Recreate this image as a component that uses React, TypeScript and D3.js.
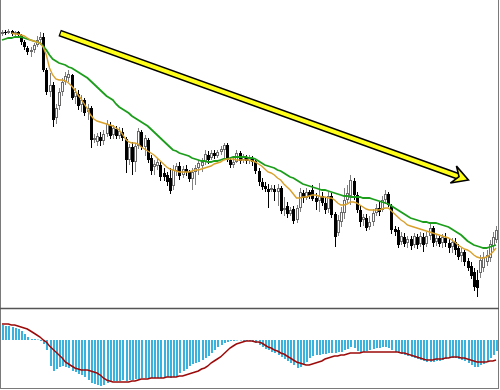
import React from 'react';
import * as d3 from 'd3';

// candle data (price units), one entry per bar
const opens = [
  366, 368, 367, 369, 366, 368, 365, 358, 352, 348,
  350, 355, 360, 363, 330, 308, 315, 282, 294, 308,
  318, 322, 325, 303, 306, 295, 300, 288, 292, 260,
  258, 263, 259, 266, 275, 265, 271, 264, 268, 261,
  240, 253, 238, 254, 268, 253, 260, 242, 233, 234,
  235, 227, 225, 222, 214, 229, 234, 225, 231, 228,
  221, 228, 232, 234, 238, 245, 242, 247, 244, 248,
  250, 255, 240, 235, 238, 247, 240, 243, 239, 242,
  239, 229, 218, 214, 211, 210, 211, 208, 212, 190,
  194, 186, 191, 180, 192, 207, 202, 208, 210, 202,
  199, 204, 197, 191, 204, 186, 167, 178, 187, 200,
  204, 219, 205, 190, 180, 182, 173, 178, 187, 192,
  190, 200, 206, 194, 171, 170, 158, 163, 157, 161,
  155, 163, 156, 163, 156, 164, 172, 158, 162, 157,
  162, 157, 153, 158, 152, 144, 148, 139, 134, 128,
  120, 127, 132, 138, 142, 154, 160,
];
const highs = [
  370, 370, 371, 370, 369, 369, 366, 360, 354, 353,
  357, 364, 368, 367, 332, 327, 318, 296, 312, 322,
  328, 330, 326, 312, 310, 305, 302, 296, 294, 266,
  267, 268, 270, 280, 278, 275, 274, 273, 272, 263,
  256, 258, 257, 272, 270, 265, 262, 245, 240, 242,
  238, 232, 228, 232, 235, 237, 238, 234, 235, 230,
  232, 235, 240, 242, 250, 249, 250, 250, 250, 254,
  257, 257, 243, 242, 250, 249, 246, 245, 245, 244,
  241, 232, 222, 218, 216, 215, 215, 216, 214, 203,
  198, 193, 194, 195, 212, 210, 212, 210, 215, 207,
  217, 208, 203, 208, 207, 188, 185, 193, 212, 215,
  225, 222, 208, 195, 186, 186, 184, 191, 196, 198,
  204, 210, 208, 196, 174, 173, 168, 167, 164, 164,
  167, 166, 168, 167, 168, 176, 174, 166, 164, 166,
  167, 162, 162, 162, 156, 152, 150, 142, 138, 132,
  130, 145, 148, 150, 160, 168, 174,
];
const lows = [
  364, 365, 366, 364, 364, 363, 355, 350, 345, 343,
  347, 353, 355, 328, 305, 303, 273, 276, 290, 304,
  315, 318, 300, 296, 290, 288, 284, 280, 252, 257,
  254, 254, 255, 263, 261, 261, 261, 261, 259, 227,
  235, 225, 228, 251, 250, 244, 237, 225, 225, 230,
  219, 219, 214, 206, 210, 224, 220, 222, 224, 218,
  210, 215, 225, 228, 235, 236, 240, 241, 242, 245,
  242, 238, 232, 232, 237, 236, 237, 236, 236, 234,
  226, 214, 210, 208, 192, 208, 199, 194, 186, 184,
  182, 184, 176, 177, 188, 197, 200, 201, 199, 190,
  188, 194, 186, 187, 182, 153, 164, 173, 181, 197,
  195, 200, 187, 173, 174, 169, 170, 174, 184, 184,
  188, 196, 193, 166, 164, 152, 155, 153, 152, 150,
  152, 151, 153, 148, 153, 160, 153, 154, 153, 152,
  153, 147, 147, 145, 140, 138, 134, 129, 121, 109,
  103, 122, 128, 134, 138, 150, 157,
];
const closes = [
  368, 367, 369, 366, 368, 365, 358, 353, 348, 350,
  355, 360, 363, 330, 308, 315, 280, 292, 308, 318,
  324, 326, 302, 308, 294, 300, 287, 292, 260, 262,
  264, 259, 266, 276, 264, 272, 264, 269, 262, 240,
  253, 238, 254, 269, 253, 262, 240, 229, 236, 238,
  223, 223, 218, 209, 230, 234, 224, 231, 228, 221,
  228, 232, 237, 238, 246, 240, 247, 244, 248, 251,
  255, 240, 235, 238, 247, 239, 243, 239, 242, 238,
  229, 218, 213, 211, 208, 212, 208, 212, 189, 192,
  186, 190, 179, 192, 208, 202, 208, 204, 201, 198,
  204, 197, 190, 204, 185, 163, 180, 188, 200, 207,
  220, 205, 190, 178, 183, 172, 178, 187, 192, 188,
  200, 206, 195, 170, 168, 155, 164, 156, 161, 154,
  164, 155, 164, 155, 164, 172, 157, 162, 156, 163,
  157, 152, 158, 150, 143, 148, 138, 132, 124, 113,
  112, 140, 143, 145, 156, 163, 170,
];

// moving averages (fast = orange, slow = green)
const maFast: (number | null)[] = [
  null, null, null, 367, 366, 366, 365, 364, 362, 360,
  359, 358, 357, 353, 345, 332, 325, 321, 320, 320,
  319, 317, 314, 310, 305, 301, 296, 291, 285, 281,
  279, 278, 277, 276, 275, 274, 272, 270, 266, 261,
  258, 257, 257, 256, 253, 251, 249, 247, 245, 242,
  239, 236, 233, 231, 230, 229, 228, 228, 228, 228,
  229, 230, 230, 231, 232, 233, 234, 236, 237, 238,
  240, 241, 241, 241, 240, 240, 240, 240, 240, 239,
  238, 236, 234, 231, 228, 227, 225, 222, 220, 216,
  213, 210, 206, 202, 202, 203, 203, 204, 205, 205,
  204, 203, 203, 202, 202, 200, 197, 195, 195, 196,
  198, 198, 197, 195, 193, 191, 190, 190, 190, 190,
  191, 192, 192, 189, 186, 183, 180, 178, 175, 174,
  173, 172, 171, 170, 169, 168, 167, 166, 165, 164,
  163, 162, 160, 158, 155, 153, 151, 150, 148, 145,
  143, 142, 142, 143, 145, 148, 152,
];
const maSlow: (number | null)[] = [
  360, 361, 362, 362, 363, 363, 363, 362, 361, 360,
  359, 358, 357, 354, 350, 345, 341, 339, 337, 336,
  335, 333, 332, 330, 328, 326, 324, 322, 319, 316,
  313, 310, 307, 304, 302, 300, 296, 293, 291, 289,
  287, 284, 282, 280, 278, 276, 274, 271, 268, 265,
  262, 259, 256, 253, 250, 249, 247, 246, 245, 244,
  242, 241, 240, 239, 239, 238, 238, 239, 239, 240,
  241, 241, 242, 243, 243, 243, 243, 243, 242, 242,
  241, 239, 237, 235, 234, 233, 232, 230, 229, 227,
  225, 223, 222, 220, 218, 216, 215, 214, 213, 212,
  211, 210, 210, 209, 208, 207, 206, 205, 204, 204,
  203, 203, 203, 203, 202, 202, 202, 201, 200, 199,
  198, 197, 196, 194, 192, 190, 188, 186, 184, 182,
  181, 180, 179, 178, 178, 177, 177, 177, 176, 175,
  174, 173, 171, 169, 167, 165, 162, 159, 157, 155,
  154, 153, 152, 152, 153, 154, 155,
];

// oscillator panel
const histogram = [
  15, 14, 14, 13, 12, 11, 9, 6, 3, 1,
  1, 0.5, -1, -4, -10, -26, -31, -29, -27, -26,
  -27, -28, -31, -32, -34, -35, -37, -40, -43, -44,
  -45, -46, -45, -43, -42, -41, -41, -41, -40, -41,
  -40, -40, -39, -39, -38, -38, -39, -38, -38, -38,
  -38, -38, -37, -38, -37, -36, -33, -31, -29, -26,
  -24, -23, -22, -20, -18, -16, -13, -10, -7, -5,
  -3, -2, -1, -1, -0.5, -0.5, -1, -1, -1, -2,
  -3, -5, -7, -9, -10, -12, -13, -15, -17, -19,
  -21, -23, -25, -28, -27, -25, -22, -18, -16, -15,
  -15, -14, -14, -13, -13, -13, -12, -12, -10, -9,
  -7, -8, -11, -13, -12, -11, -10, -9, -8, -8,
  -7, -7, -8, -10, -12, -13, -14, -15, -16, -17,
  -18, -19, -20, -21, -22, -22, -22, -21, -21, -20,
  -19, -18, -18, -18, -19, -20, -21, -23, -25, -27,
  -27, -25, -24, -21, -18, -15, -11,
];
const signal = [
  16, 16, 16, 15, 15, 14, 13, 12, 11, 9,
  7, 5, 3, 0, -2, -6, -9, -12, -15, -18,
  -22, -24, -26, -28, -29, -30, -30, -30, -31, -32,
  -33, -35, -38, -40, -41, -42, -42, -42, -42, -42,
  -42, -41, -41, -40, -39, -39, -39, -38, -38, -38,
  -38, -38, -37, -37, -37, -37, -36, -36, -35, -34,
  -33, -32, -31, -29, -28, -26, -23, -21, -19, -17,
  -14, -11, -8, -6, -4, -3, -2, -1, -1, -1,
  -2, -2, -3, -5, -7, -8, -10, -11, -13, -14,
  -16, -18, -20, -22, -23, -24, -25, -25, -24, -23,
  -22, -21, -19, -18, -17, -16, -16, -15, -15, -14,
  -13, -13, -13, -13, -12, -12, -12, -12, -12, -12,
  -12, -12, -12, -12, -12, -12, -13, -13, -14, -15,
  -16, -17, -18, -19, -20, -20, -20, -19, -19, -19,
  -18, -18, -17, -17, -17, -18, -18, -19, -20, -21,
  -22, -22, -22, -22, -21, -21, -20,
];

// trend arrow, in bar index / price
const arrowFrom = { i: 18.2, p: 367 };
const arrowTo = { i: 147.3, p: 220 };

const W = 500;
const H = 390;

export default function App() {
  const n = closes.length;
  const x = d3.scaleLinear().domain([0, n - 1]).range([2, 496]);
  const y = d3.scaleLinear().domain([92, 400]).range([308, 0]);
  const yM = d3.scaleLinear().domain([-48, 32]).range([388, 308]);

  const maLine = d3.line<number | null>()
    .defined(d => d != null)
    .x((_, i) => x(i))
    .y(d => y(d as number));
  const sigLine = d3.line<number>()
    .x((_, i) => x(i))
    .y(d => yM(d));

  // arrow geometry
  const ax0 = x(arrowFrom.i), ay0 = y(arrowFrom.p);
  const ax1 = x(arrowTo.i), ay1 = y(arrowTo.p);
  const len = Math.hypot(ax1 - ax0, ay1 - ay0);
  const ux = (ax1 - ax0) / len, uy = (ay1 - ay0) / len;
  const px = uy, py = -ux;
  const bx = ax1 - 16 * ux, by = ay1 - 16 * uy;
  const nx = ax1 - 10 * ux, ny = ay1 - 10 * uy;
  const head = [
    [ax1, ay1],
    [bx + 9 * px, by + 9 * py],
    [nx, ny],
    [bx - 9 * px, by - 9 * py],
  ].map(p => p.join(',')).join(' ');

  const zero = yM(0);

  return (
    <svg width={W} height={H} style={{ position: 'fixed', left: 0, top: 0, background: '#fff' }}>
      <rect x={0} y={0} width={W} height={H} fill="#fff" />

      {/* candles */}
      <g>
        {closes.map((c, i) => {
          const o = opens[i];
          const cx = Math.round(x(i));
          const up = c > o;
          const top = y(Math.max(o, c));
          const bot = y(Math.min(o, c));
          const h = Math.max(1, bot - top);
          return (
            <g key={i}>
              <line x1={cx + 0.5} x2={cx + 0.5} y1={y(highs[i])} y2={y(lows[i])}
                stroke={up ? '#808080' : '#000'} strokeWidth={1} />
              {up ? (
                <rect x={cx - 0.5} y={top + 0.5} width={2} height={Math.max(0.5, h - 1)}
                  fill="#fff" stroke="#6a6a6a" strokeWidth={1} />
              ) : (
                <rect x={cx - 1} y={top} width={3} height={h} fill="#000" />
              )}
            </g>
          );
        })}
      </g>

      {/* moving averages */}
      <path d={maLine(maSlow) || ''} fill="none" stroke="#1c9e1c" strokeWidth={1.8} />
      <path d={maLine(maFast) || ''} fill="none" stroke="#d9a02a" strokeWidth={1.4} />

      {/* trend arrow */}
      <line x1={ax0} y1={ay0} x2={nx} y2={ny} stroke="#000" strokeWidth={7} />
      <line x1={ax0 + 1.2 * ux} y1={ay0 + 1.2 * uy} x2={nx} y2={ny} stroke="#ffff1a" strokeWidth={3.8} />
      <polygon points={head} fill="#ffff1a" stroke="#000" strokeWidth={1.6} strokeLinejoin="miter" />

      {/* oscillator */}
      <g>
        {histogram.map((v, i) => {
          const cx = Math.round(x(i));
          const yv = yM(v);
          return (
            <rect key={i} x={cx} y={Math.min(yv, zero)} width={2}
              height={Math.max(0.5, Math.abs(yv - zero))} fill="#3ab2de" />
          );
        })}
      </g>
      <path d={sigLine(signal) || ''} fill="none" stroke="#9c0a0a" strokeWidth={1.5} />

      {/* frame */}
      <line x1={0.5} x2={0.5} y1={0} y2={389} stroke="#7a7a7a" />
      <line x1={498.5} x2={498.5} y1={0} y2={389} stroke="#7a7a7a" />
      <line x1={0} x2={499} y1={308.5} y2={308.5} stroke="#555" strokeWidth={1.5} />
      <line x1={0} x2={499} y1={388.5} y2={388.5} stroke="#7a7a7a" />
    </svg>
  );
}
